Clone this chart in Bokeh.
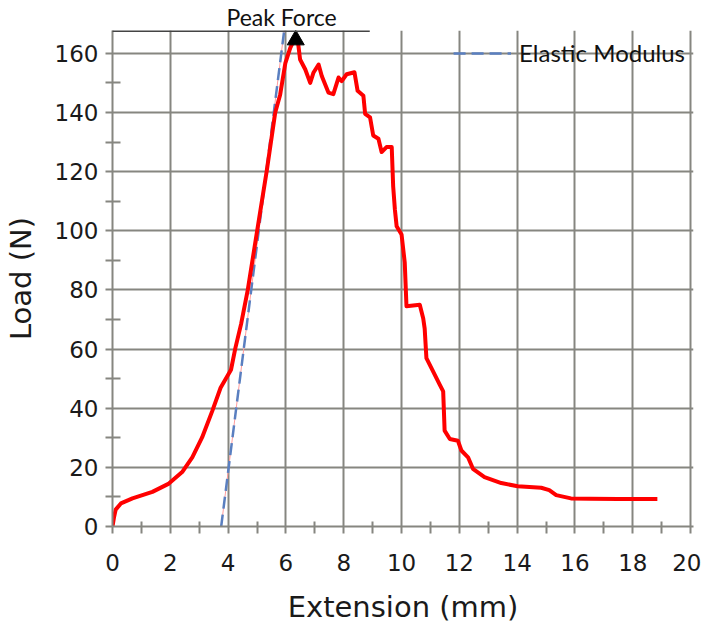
from bokeh.plotting import figure
from bokeh.models import (Range1d, FixedTicker, Arrow, Legend, LegendItem, Title)
from bokeh.embed import file_html
from bokeh.resources import INLINE

# ---- data ----
ext_mm = [0, 0.05, 0.11, 0.29, 0.69, 1.38, 1.95, 2.41, 2.76, 3.10, 3.45, 3.74, 3.97,
          4.10, 4.25, 4.45, 4.68, 5.0, 5.34, 5.63, 5.80, 5.98, 6.15, 6.26, 6.42, 6.49,
          6.67, 6.84, 6.95, 7.13, 7.24, 7.47, 7.64, 7.82, 7.93, 8.10, 8.37, 8.48, 8.68,
          8.74, 8.91, 9.02, 9.20, 9.31, 9.48, 9.66, 9.71, 9.77, 9.83, 10.0, 10.11, 10.17,
          10.63, 10.75, 10.80, 10.86, 11.03, 11.32, 11.44, 11.49, 11.67, 11.95, 12.07,
          12.30, 12.47, 12.87, 13.45, 14.02, 14.83, 15.11, 15.35, 15.86, 16.5, 17.5, 18.85]
load_n = [0, 3.0, 5.7, 7.8, 9.5, 11.7, 14.5, 18.4, 23.4, 30.1, 39.0, 46.9, 50.8,
          53.0, 60.3, 68.5, 80.0, 99.7, 120.5, 140.0, 146.0, 156.7, 161.8, 164.0, 163.5, 157.9,
          154.5, 150.0, 153.4, 156.2, 152.3, 146.7, 146.2, 151.8, 150.6, 152.9, 153.6, 147.3, 145.6,
          139.5, 138.3, 132.2, 131.1, 126.6, 128.3, 128.3, 115.0, 107.1, 101.5, 98.7, 89.3, 74.5,
          75.0, 70.3, 66.9, 56.9, 53.6, 48.0, 45.7, 32.4, 29.6, 29.0, 25.7,
          23.4, 19.5, 16.7, 14.7, 13.6, 13.1, 12.3, 10.6, 9.5, 9.4, 9.3, 9.3]

modulus_x = [3.76, 5.94]
modulus_y = [0, 167.7]

peak_x = [6.34]
peak_y = [164.5]
peak_label = "Peak Force"

x_ticks = [0, 2, 4, 6, 8, 10, 12, 14, 16, 18, 20]
x_minor = [1, 3, 5, 7, 9, 11, 13, 15, 17, 19]
y_ticks = [0, 20, 40, 60, 80, 100, 120, 140, 160]
y_minor = [10, 30, 50, 70, 90, 110, 130, 150]

GRID = "#868680"
TICK_FONT = "DejaVu Sans"

p = figure(width=701, height=626, output_backend="svg", toolbar_location=None,
           x_range=Range1d(0, 20.1), y_range=Range1d(0, 167.7),
           min_border_left=110, min_border_right=8, min_border_top=29, min_border_bottom=96)
p.title = Title(text=peak_label, align="left", offset=114, standoff=0,
                text_font="Lato", text_font_size="23px", text_font_style="normal",
                text_line_height=1.0, text_color="#111111")
p.outline_line_color = None
p.background_fill_color = "white"
p.border_fill_color = "white"

p.xaxis.ticker = FixedTicker(ticks=x_ticks, minor_ticks=x_minor)
p.yaxis.ticker = FixedTicker(ticks=y_ticks, minor_ticks=y_minor)

for ax in (p.xaxis, p.yaxis):
    ax.axis_line_color = GRID
    ax.axis_line_width = 2
    ax.major_tick_line_color = GRID
    ax.major_tick_line_width = 2
    ax.major_tick_out = 7
    ax.major_tick_in = 0
    ax.minor_tick_line_color = GRID
    ax.minor_tick_line_width = 2
    ax.major_label_text_font = TICK_FONT
    ax.major_label_text_font_size = "23px"
    ax.major_label_text_color = "#1a1a1a"
    ax.axis_label_text_font = TICK_FONT
    ax.axis_label_text_font_size = "29px"
    ax.axis_label_text_font_style = "normal"
    ax.axis_label_text_color = "#1a1a1a"

p.xaxis.minor_tick_out = 7
p.xaxis.minor_tick_in = 5
p.yaxis.minor_tick_out = 7
p.yaxis.minor_tick_in = 8
p.xaxis.major_label_standoff = 20
p.yaxis.major_label_standoff = 7
p.xaxis.axis_label = "Extension (mm)"
p.yaxis.axis_label = "Load (N)"
p.xaxis.axis_label_standoff = 16
p.yaxis.axis_label_standoff = 14

p.grid.grid_line_color = GRID
p.grid.grid_line_width = 2
p.xgrid.ticker = FixedTicker(ticks=x_ticks)
p.ygrid.ticker = FixedTicker(ticks=y_ticks)

# elastic modulus line (thin pink under a blue dashed line)
p.line(modulus_x, modulus_y, line_color="#ff9c9c", line_width=1)
mod = p.line(modulus_x, modulus_y, line_color="#5a7fc0", line_width=2.5, line_dash="12 6")

# load curve
p.line(ext_mm, load_n, line_color="#ff0000", line_width=4, line_join="round")

# peak force marker
p.scatter(peak_x, peak_y, marker="triangle", size=17, fill_color="black", line_color="black")

# rule under the peak force label
p.add_layout(Arrow(end=None, x_start=-2.07, y_start=167.7, x_end=8.9, y_end=167.7,
                   line_color="#444444", line_width=3))

legend = Legend(items=[LegendItem(label="Elastic Modulus", renderers=[mod])],
                location="top_right", margin=0, padding=8,
                background_fill_alpha=0, border_line_alpha=0,
                glyph_width=58, glyph_height=24, label_standoff=8,
                label_text_font="Lato", label_text_font_size="24px",
                label_text_color="#111111")
p.add_layout(legend)

open("out.html", "w").write(file_html(p, INLINE))
